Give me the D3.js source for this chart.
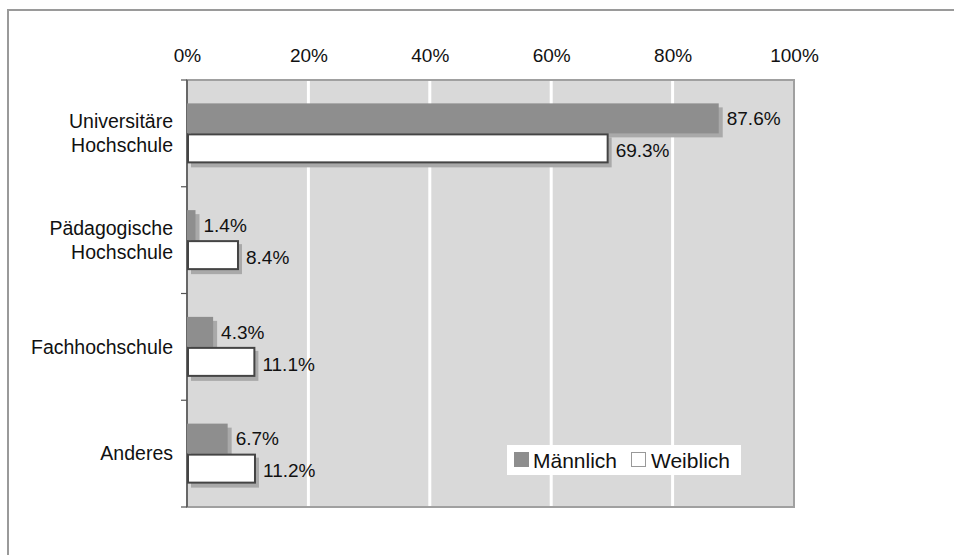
<!DOCTYPE html>
<html><head><meta charset="utf-8">
<script src="https://cdn.jsdelivr.net/npm/d3@7"></script>
<style>body{margin:0;background:#fff;} svg{display:block;font-family:"Liberation Sans",Arial,sans-serif;}</style>
</head><body>
<script>
const categories = [["Universitäre","Hochschule"],["Pädagogische","Hochschule"],["Fachhochschule"],["Anderes"]];
const categoryKeys = ["Universitäre Hochschule","Pädagogische Hochschule","Fachhochschule","Anderes"];
const maleValues = [87.6, 1.4, 4.3, 6.7];
const femaleValues = [69.3, 8.4, 11.1, 11.2];
const seriesNames = ["Männlich","Weiblich"];
const tickValues = [0,20,40,60,80,100];

const W=954,H=555;
const FS=19;
const svg=d3.select("body").append("svg").attr("width",W).attr("height",H);
// outer frame
svg.append("rect").attr("x",8).attr("y",10).attr("width",W).attr("height",H).attr("fill","none").attr("stroke","#9a9a9a").attr("stroke-width",2);

const L=187,R=794,T=80,B=507;
const x=d3.scaleLinear().domain([0,100]).range([L,R]);
const y=d3.scaleBand().domain(categoryKeys).range([T,B]);
const barH=30;

svg.append("rect").attr("x",L).attr("y",T).attr("width",R-L).attr("height",B-T).attr("fill","#d9d9d9").attr("stroke","#a0a0a0").attr("stroke-width",2);
// gridlines
svg.append("g").selectAll("line").data(tickValues.filter(v=>v>0&&v<100)).join("line")
  .attr("x1",d=>x(d)).attr("x2",d=>x(d)).attr("y1",T+1).attr("y2",B-1)
  .attr("stroke","#fff").attr("stroke-width",3);

// top tick labels
const ax=svg.append("g").attr("transform",`translate(0,${T-25})`)
  .call(d3.axisTop(x).tickValues(tickValues).tickFormat(d=>d+"%").tickSize(0));
ax.select(".domain").remove();
ax.selectAll("text").attr("font-size",FS).attr("fill","#111").attr("font-family","'Liberation Sans',Arial,sans-serif").attr("dy","0.35em").attr("y",0);

// left axis
svg.append("line").attr("x1",L).attr("x2",L).attr("y1",T).attr("y2",B).attr("stroke","#555").attr("stroke-width",1.5);
const bounds=categoryKeys.map(k=>y(k)).concat([B]);
svg.append("g").selectAll("line").data(bounds).join("line")
  .attr("x1",L-6).attr("x2",L).attr("y1",d=>d).attr("y2",d=>d).attr("stroke","#555").attr("stroke-width",1.2);

// category labels
categoryKeys.forEach((k,i)=>{
  const lines=categories[i];
  const cy=y(k)+y.bandwidth()/2;
  const t=svg.append("text").attr("x",173).attr("text-anchor","end").attr("font-size",19.5).attr("fill","#111");
  lines.forEach((ln,j)=>{
    t.append("tspan").attr("x",173).attr("y",cy+(j-(lines.length-1)/2)*24).attr("dy","0.35em").text(ln);
  });
});

const data=categoryKeys.map((k,i)=>({k,m:maleValues[i],f:femaleValues[i]}));
const g=svg.append("g");
data.forEach(d=>{
  const cy=y(d.k)+y.bandwidth()/2;
  const ym=cy-barH, yf=cy;
  // shadows
  g.append("rect").attr("x",L+4).attr("y",ym+4).attr("width",x(d.m)-L).attr("height",barH).attr("fill","#a9a9a9");
  g.append("rect").attr("x",L+4).attr("y",yf+4).attr("width",x(d.f)-L).attr("height",barH).attr("fill","#a9a9a9");
  // bars
  g.append("rect").attr("x",L).attr("y",ym).attr("width",x(d.m)-L).attr("height",barH).attr("fill","#8e8e8e");
  g.append("rect").attr("x",L+1).attr("y",yf+1).attr("width",x(d.f)-L-1).attr("height",barH-2).attr("fill","#fff").attr("stroke","#444").attr("stroke-width",2);
  // labels
  g.append("text").attr("x",x(d.m)+8).attr("y",ym+barH/2).attr("dy","0.35em").attr("font-size",FS).attr("fill","#111").text(d.m.toFixed(1)+"%");
  g.append("text").attr("x",x(d.f)+8).attr("y",yf+barH/2+2).attr("dy","0.35em").attr("font-size",FS).attr("fill","#111").text(d.f.toFixed(1)+"%");
});

// legend
const lg=svg.append("g");
lg.append("rect").attr("x",507).attr("y",445).attr("width",234).attr("height",30).attr("fill","#fff");
lg.append("rect").attr("x",514).attr("y",452).attr("width",15).attr("height",15).attr("fill","#8e8e8e");
lg.append("text").attr("x",533).attr("y",461).attr("dy","0.35em").attr("font-size",21).attr("fill","#111").text(seriesNames[0]);
lg.append("rect").attr("x",631.5).attr("y",452.5).attr("width",14).attr("height",14).attr("fill","#fff").attr("stroke","#999");
lg.append("text").attr("x",651).attr("y",461).attr("dy","0.35em").attr("font-size",21).attr("fill","#111").text(seriesNames[1]);
</script>
</body></html>
